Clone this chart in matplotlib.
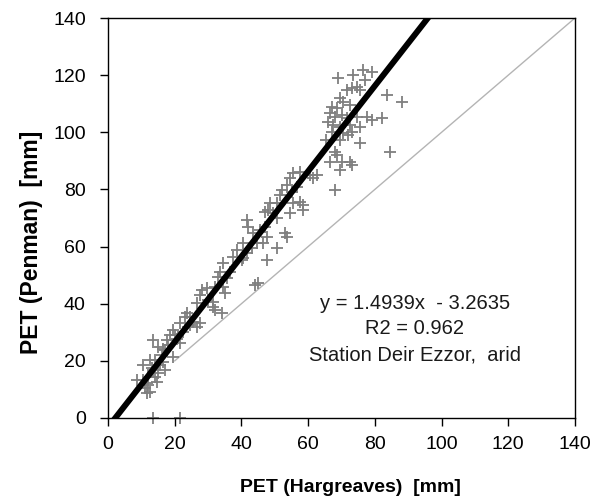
import matplotlib
matplotlib.use("Agg")
import matplotlib.pyplot as plt
import numpy as np

plt.rcParams["font.family"] = ["Liberation Sans", "DejaVu Sans"]

# PET values (Hargreaves, Penman) in mm
pet_harg = [
    69.0, 73.5, 76.5, 79.0, 77.0, 73.0, 74.5, 75.5, 71.6, 83.5, 88.0, 69.5, 70.5, 72.5,
    67.1, 68.6, 66.5, 68.0, 70.1, 71.6, 74.6, 77.5, 79.0, 82.0, 66.0, 67.5, 69.5, 72.5,
    75.5, 67.1, 70.5, 72.0, 73.0, 69.5, 75.5, 65.5, 84.5, 68.0, 68.6, 66.5, 70.1, 72.5,
    73.1, 69.6, 68.1,
    62.6, 61.6, 60.6, 57.6, 55.6, 54.6, 53.6, 52.1, 55.1, 56.6, 57.6, 58.6, 55.6, 51.6,
    50.6, 48.6, 47.1, 48.1, 49.6, 50.6, 54.6, 58.5, 41.6, 42.1, 43.6, 45.6, 47.1, 47.6,
    46.6, 44.6, 43.1, 41.6, 40.6, 38.6, 37.6, 40.6, 50.6, 53.1, 53.6, 47.6, 40.1, 44.1,
    45.1, 34.6, 33.6, 36.6, 33.1, 35.6, 34.6, 35.1, 32.1, 29.6, 28.1, 27.6, 30.1, 31.6,
    32.1, 31.6, 34.1, 26.6, 23.6, 24.6, 23.1, 25.6, 21.6, 26.6, 27.6, 24.6,
    19.6, 20.1, 18.6, 17.6, 21.6, 13.6, 15.1, 17.1, 16.1, 19.6, 14.1, 12.6, 10.6, 15.6,
    17.1, 15.1, 13.6, 8.6, 10.6, 11.6, 11.1, 11.6, 12.6, 14.1, 12.1, 18.1, 16.6, 13.1,
    12.1, 14.6, 22.6, 20.6, 16.6, 13.5, 21.6,
]
pet_penman = [
    118.9, 120.1, 121.8, 121.2, 118.3, 115.4, 116.0, 114.8, 114.8, 113.0, 110.7, 111.9, 110.7, 109.6,
    109.0, 108.4, 106.6, 105.5, 106.1, 104.9, 105.5, 105.5, 104.3, 104.9, 103.7, 102.5, 102.0, 102.5,
    102.0, 100.2, 99.6, 99.0, 100.2, 97.3, 96.1, 97.3, 93.2, 93.2, 92.1, 89.7, 89.7, 89.7,
    88.5, 86.8, 79.8,
    85.0, 83.9, 85.0, 86.2, 85.6, 83.9, 81.5, 79.8, 79.2, 80.9, 75.7, 74.5, 75.1, 78.1,
    75.1, 75.1, 72.2, 72.8, 71.6, 69.9, 71.6, 72.8, 69.3, 67.0, 64.6, 65.8, 67.0, 63.5,
    61.1, 61.1, 59.4, 57.6, 55.9, 58.8, 56.5, 61.1, 59.4, 64.6, 63.5, 55.3, 55.3, 46.5,
    47.1, 54.1, 51.2, 51.2, 49.5, 48.9, 46.0, 43.6, 46.0, 45.4, 44.8, 43.0, 41.3, 40.7,
    37.8, 39.0, 36.6, 40.1, 36.6, 35.5, 35.5, 33.7, 33.1, 32.0, 33.1, 32.5,
    30.8, 29.0, 29.0, 27.3, 26.1, 27.3, 25.0, 23.8, 22.0, 21.5, 20.3, 20.3, 18.5, 18.5,
    16.8, 15.6, 16.8, 13.3, 13.3, 12.1, 10.4, 8.6, 9.2, 14.5, 14.5, 25.5, 19.5, 17.5,
    11.5, 12.5, 30.0, 27.5, 24.0, 0.0, 0.0,
]

slope = 1.4939
intercept = -3.2635
r2 = 0.962
station = "Station Deir Ezzor,  arid"

ticks = [0, 20, 40, 60, 80, 100, 120, 140]

fig = plt.figure(figsize=(5.92, 5.01), dpi=100)
ax = fig.add_axes([108 / 592, 83 / 501, 467 / 592, 400 / 501])

# 1:1 line
ax.plot([20, 140], [20, 140], color="#b4b4b4", lw=1.0, zorder=1)

# scatter
ax.plot(pet_harg, pet_penman, linestyle="none", marker="+", markersize=8.5,
        markeredgewidth=1.3, color="#7f7f7f", zorder=2, clip_on=False)

# regression line
xr = np.array([0, 100])
ax.plot(xr, slope * xr + intercept, color="black", lw=4.3, zorder=3,
        solid_capstyle="butt")

ax.set_xlim(0, 140)
ax.set_ylim(0, 140)
ax.set_xticks(ticks)
ax.set_yticks(ticks)
ax.tick_params(axis="both", direction="out", length=6, width=1, labelsize=14,
               colors="black")
ax.tick_params(axis="x", pad=7)
ax.tick_params(axis="y", pad=10)
for s in ax.spines.values():
    s.set_linewidth(1.0)

ax.text(0.657, 0.2225, f"y = {slope}x  - {abs(intercept)}\nR2 = {r2}\n{station}",
        transform=ax.transAxes, ha="center", va="center", fontsize=14.5,
        linespacing=1.45, color="#1a1a1a")

fig.text(350 / 592, 1 - 487 / 501, "PET (Hargreaves)  [mm]", ha="center", va="center",
         fontsize=14, fontweight="bold")
fig.text(32 / 592, 1 - 242 / 501, "PET (Penman)  [mm]", ha="center", va="center",
         rotation=90, fontsize=16.5, fontweight="bold")

fig.savefig("out.png", dpi=100)
